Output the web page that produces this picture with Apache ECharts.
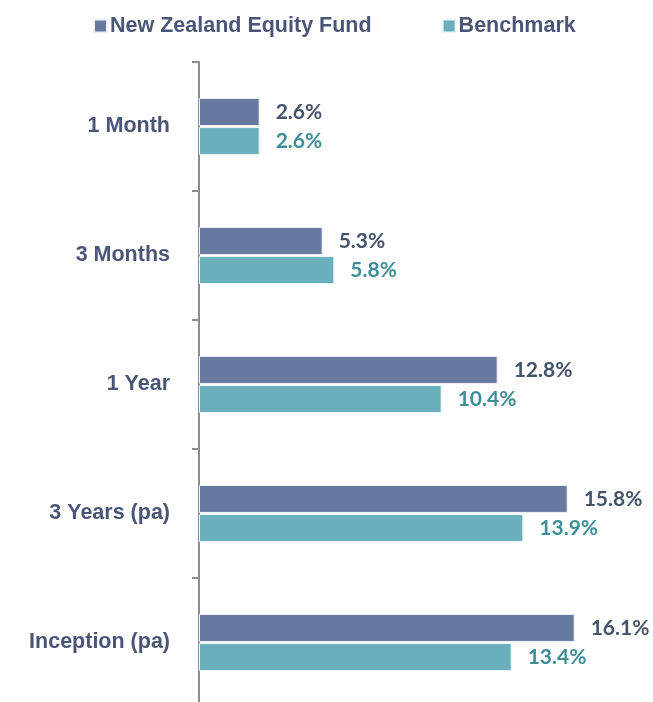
<!DOCTYPE html>
<html>
<head>
<meta charset="utf-8">
<script src="https://cdn.jsdelivr.net/npm/echarts@6/dist/echarts.min.js"></script>
<style>
  html, body { margin: 0; padding: 0; background: #fff; }
  #chart { width: 653px; height: 702px; }
</style>
</head>
<body>
<div id="chart"></div>
<script>
const categories = ['1 Month', '3 Months', '1 Year', '3 Years (pa)', 'Inception (pa)']
const fundName = 'New Zealand Equity Fund'
const benchName = 'Benchmark'
const fundValues = [2.6, 5.3, 12.8, 15.8, 16.1]
const benchValues = [2.6, 5.8, 10.4, 13.9, 13.4]

const chart = echarts.init(document.getElementById('chart'))

const valueFont = { fontFamily: 'Lato', fontSize: 21, fontWeight: 'bold' }

const option = {
  backgroundColor: '#fff',
  animation: false,
  legend: {
    top: 10,
    left: 88,
    itemGap: 70,
    itemWidth: 13,
    itemHeight: 13,
    icon: 'rect',
    textStyle: { color: '#4A5577', fontFamily: 'Liberation Sans', fontSize: 21.5, fontWeight: 'bold', padding: [0, 0, 0, -2] },
    data: [fundName, benchName]
  },
  grid: { left: 199, top: 62, width: 420, height: 645, outerBoundsMode: 'none', containLabel: false },
  xAxis: {
    type: 'value',
    min: 0,
    max: 18,
    show: false
  },
  yAxis: {
    type: 'category',
    inverse: true,
    data: categories,
    axisLine: { show: true, lineStyle: { color: '#8c8c8c', width: 2 } },
    axisTick: { show: true, length: 7, lineStyle: { color: '#8c8c8c', width: 2 } },
    axisLabel: { color: '#4A5577', margin: 29, fontFamily: 'Liberation Sans', fontSize: 21.5, fontWeight: 'bold' }
  },
  series: [
    {
      name: fundName,
      type: 'bar',
      data: fundValues,
      barWidth: 28,
      barGap: '4%',
      itemStyle: { color: '#67799F', borderColor: '#f0f2f6', borderWidth: 1 },
      label: {
        show: true,
        position: 'right',
        distance: 16,
        color: '#44546A',
        formatter: p => p.value.toFixed(1) + '%',
        ...valueFont
      }
    },
    {
      name: benchName,
      type: 'bar',
      data: benchValues,
      barWidth: 28,
      itemStyle: { color: '#6AB0BC', borderColor: '#eef6f7', borderWidth: 1 },
      label: {
        show: true,
        position: 'right',
        distance: 16,
        color: '#3E8E98',
        formatter: p => p.value.toFixed(1) + '%',
        ...valueFont
      }
    }
  ]
}

chart.setOption(option)
</script>
</body>
</html>
